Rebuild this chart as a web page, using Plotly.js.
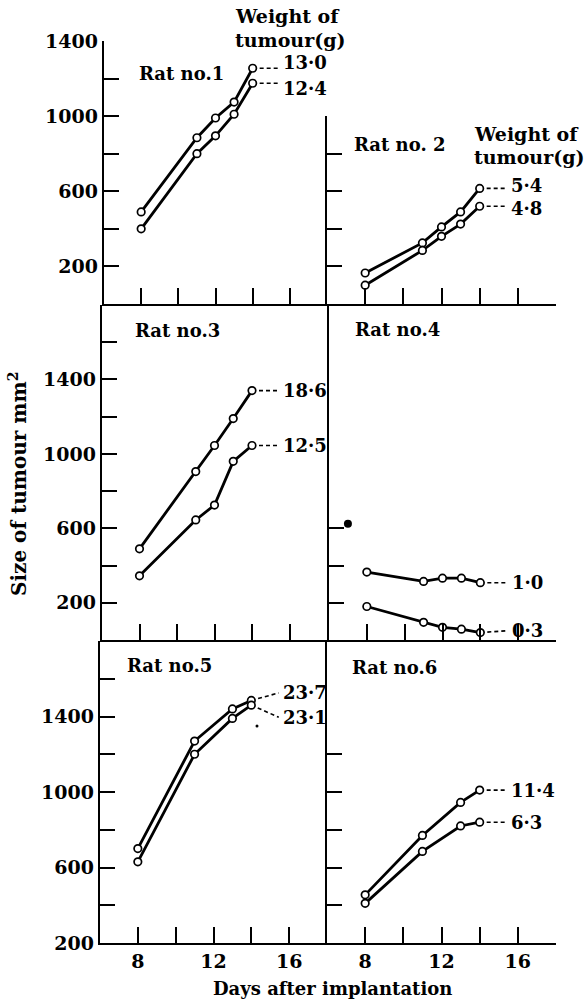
<!DOCTYPE html>
<html>
<head>
<meta charset="utf-8">
<script src="https://cdn.plot.ly/plotly-3.0.1.min.js"></script>
<style>
html,body{margin:0;padding:0;background:#fff;}
#chart{width:584px;height:1002px;}
</style>
</head>
<body>
<div id="chart"></div>
<script>
// ---- data ----
const days5 = [8, 11, 12, 13, 14];
const days4 = [8, 11, 13, 14];

const rat1Upper = [490, 885, 990, 1075, 1255];
const rat1Lower = [400, 800, 895, 1010, 1175];
const rat1Weights = ['13·0', '12·4'];

const rat2Upper = [165, 325, 410, 490, 615];
const rat2Lower = [100, 285, 360, 425, 520];
const rat2Weights = ['5·4', '4·8'];

const rat3Upper = [490, 905, 1045, 1190, 1340];
const rat3Lower = [345, 645, 725, 960, 1045];
const rat3Weights = ['18·6', '12·5'];

const rat4Upper = [365, 315, 332, 332, 308];
const rat4Lower = [180, 95, 68, 58, 40];
const rat4Weights = ['1·0', '0·3'];

const rat5Upper = [700, 1270, 1440, 1485];
const rat5Lower = [630, 1200, 1390, 1460];
const rat5Weights = ['23·7', '23·1'];

const rat6Upper = [455, 770, 945, 1010];
const rat6Lower = [410, 685, 820, 840];
const rat6Weights = ['11·4', '6·3'];

const ratNames = ['Rat no.1', 'Rat no. 2', 'Rat no.3', 'Rat no.4', 'Rat no.5', 'Rat no.6'];
const xMajorTicks = [8, 12, 16];
const xMinorTicks = [10, 14, 18];
const strayDotX = [7.0];
const strayDotY = [625];
const strayDot5X = [14.3];
const strayDot5Y = [1350];

// ---- layout geometry (pixels) ----
const W = 584, H = 1002;
const fx = p => p / W;
const fy = p => 1 - p / H;
const FONT = 'DejaVu Serif';

// off: leader end offsets; toff: extra text-only offsets
const panels = [
  {days: days5, up: rat1Upper, lo: rat1Lower, w: rat1Weights, x0: 104, x1: 327, y0: 41, y1: 304, yr: [0, 1400],
   ymaj: [200, 600, 1000, 1400], ymin: [400, 800, 1200], lab: true, off: [0, 0], toff: [28, -28], name: [137, 73]},
  {days: days5, up: rat2Upper, lo: rat2Lower, w: rat2Weights, x0: 327, x1: 556, y0: 116, y1: 304, yr: [0, 1000],
   ymaj: [200, 400, 600, 800, 1000], ymin: [], lab: false, off: [0, 0], toff: [14, -14], name: [352, 145]},
  {days: days5, up: rat3Upper, lo: rat3Lower, w: rat3Weights, x0: 102, x1: 327, y0: 305, y1: 640, yr: [0, 1800],
   ymaj: [200, 600, 1000, 1400], ymin: [400, 800, 1200, 1600], lab: true, off: [0, 0], toff: [0, 0], name: [133, 330]},
  {days: days5, up: rat4Upper, lo: rat4Lower, w: rat4Weights, x0: 329, x1: 556, y0: 305, y1: 640, yr: [0, 1800],
   ymaj: [200, 400, 600], ymin: [], lab: false, off: [0, 10], toff: [0, 0], name: [353, 329]},
  {days: days4, up: rat5Upper, lo: rat5Lower, w: rat5Weights, x0: 100, x1: 327, y0: 641, y1: 943, yr: [200, 1800],
   ymaj: [200, 600, 1000, 1400], ymin: [400, 800, 1200, 1600], lab: true, off: [40, -64], toff: [0, 0], name: [125, 665], xlab: true},
  {days: days4, up: rat6Upper, lo: rat6Lower, w: rat6Weights, x0: 327, x1: 556, y0: 641, y1: 943, yr: [200, 1800],
   ymaj: [400, 600, 800, 1000, 1200], ymin: [], lab: false, off: [0, 0], toff: [0, 0], name: [350, 667], xlab: true}
];

const traces = [];
const annotations = [];
const layout = {
  width: W, height: H,
  margin: {l: 0, r: 0, t: 0, b: 0},
  paper_bgcolor: '#fff', plot_bgcolor: 'rgba(0,0,0,0)',
  showlegend: false,
  font: {family: FONT, color: '#000', size: 19, weight: 'bold'}
};

panels.forEach((p, i) => {
  const n = i + 1;
  const xa = 'x' + (n === 1 ? '' : n), ya = 'y' + (n === 1 ? '' : n);
  const xk = 'xaxis' + (n === 1 ? '' : n), yk = 'yaxis' + (n === 1 ? '' : n);
  layout[xk] = {
    domain: [fx(p.x0), fx(p.x1)], anchor: ya, range: [6, 18],
    showline: true, linecolor: '#000', linewidth: 2.2,
    ticks: 'inside', ticklen: 16, tickwidth: 2, tickcolor: '#000',
    tickmode: 'array', tickvals: xMajorTicks, ticktext: xMajorTicks.map(String),
    minor: {tickmode: 'array', tickvals: xMinorTicks, ticks: 'inside', ticklen: 16, tickwidth: 2, tickcolor: '#000', showgrid: false},
    showticklabels: !!p.xlab, showgrid: false, zeroline: false,
    tickfont: {family: FONT, size: 19, weight: 'bold', color: '#000'}, fixedrange: true
  };
  const ya_ = {
    domain: [fy(p.y1), fy(p.y0)], anchor: xa, range: p.yr,
    showline: true, linecolor: '#000', linewidth: 2.2,
    ticks: 'inside', ticklen: 15, tickwidth: 2, tickcolor: '#000',
    tickmode: 'array', tickvals: p.ymaj, ticktext: p.ymaj.map(String),
    showticklabels: p.lab, showgrid: false, zeroline: false,
    tickfont: {family: FONT, size: 19, weight: 'bold', color: '#000'}, fixedrange: true
  };
  if (p.ymin.length) {
    ya_.minor = {tickmode: 'array', tickvals: p.ymin, ticks: 'inside', ticklen: 15, tickwidth: 2, tickcolor: '#000', showgrid: false};
  }
  layout[yk] = ya_;
  const lastDay = p.days[p.days.length - 1];
  const labelX = lastDay + 1.55;
  [p.up, p.lo].forEach((vals, k) => {
    const last = vals[vals.length - 1];
    const ly = last + p.off[k];
    traces.push({x: [lastDay, labelX - 0.1], y: [last, ly], xaxis: xa, yaxis: ya, mode: 'lines',
      line: {color: '#000', width: 1.6, dash: '4px,3px'}, hoverinfo: 'skip', cliponaxis: false});
    annotations.push({x: labelX, y: ly + p.toff[k], xref: xa, yref: ya, text: p.w[k], showarrow: false,
      xanchor: 'left', yanchor: 'middle', font: {family: FONT, size: 18, weight: 'bold', color: '#000'}});
  });
  [p.up, p.lo].forEach(vals => {
    traces.push({x: p.days, y: vals, xaxis: xa, yaxis: ya, mode: 'lines+markers',
      line: {color: '#000', width: 2.8},
      marker: {symbol: 'circle', size: 7.5, color: '#fff', line: {color: '#000', width: 1.7}},
      cliponaxis: false});
  });
  annotations.push({x: fx(p.name[0]), y: fy(p.name[1]), xref: 'paper', yref: 'paper', text: ratNames[i],
    showarrow: false, xanchor: 'left', yanchor: 'middle', font: {family: FONT, size: 18, weight: 'bold', color: '#000'}});
});

// stray printed dots
traces.push({x: strayDotX, y: strayDotY, xaxis: 'x4', yaxis: 'y4', mode: 'markers',
  marker: {size: 8, color: '#000'}, cliponaxis: false});
traces.push({x: strayDot5X, y: strayDot5Y, xaxis: 'x5', yaxis: 'y5', mode: 'markers',
  marker: {size: 3, color: '#000'}, cliponaxis: false});

// headings
const headFont = {family: FONT, size: 19, weight: 'bold', color: '#000'};
annotations.push({x: fx(233), y: fy(16), xref: 'paper', yref: 'paper', text: 'Weight of', showarrow: false, xanchor: 'left', yanchor: 'middle', font: headFont});
annotations.push({x: fx(233), y: fy(40), xref: 'paper', yref: 'paper', text: 'tumour(g)', showarrow: false, xanchor: 'left', yanchor: 'middle', font: headFont});
annotations.push({x: fx(472), y: fy(134), xref: 'paper', yref: 'paper', text: 'Weight of', showarrow: false, xanchor: 'left', yanchor: 'middle', font: headFont});
annotations.push({x: fx(472), y: fy(157), xref: 'paper', yref: 'paper', text: 'tumour(g)', showarrow: false, xanchor: 'left', yanchor: 'middle', font: headFont});

annotations.push({x: fx(332), y: fy(988), xref: 'paper', yref: 'paper', text: 'Days after implantation', showarrow: false,
  xanchor: 'center', yanchor: 'middle', font: {family: FONT, size: 18, weight: 'bold', color: '#000'}});
annotations.push({x: fx(18), y: fy(484), xref: 'paper', yref: 'paper', text: 'Size of tumour mm<sup>2</sup>', showarrow: false,
  textangle: -90, xanchor: 'center', yanchor: 'middle', font: {family: FONT, size: 20, weight: 'bold', color: '#000'}});

layout.annotations = annotations;
Plotly.newPlot('chart', traces, layout, {staticPlot: true, displayModeBar: false});
</script>
</body>
</html>
